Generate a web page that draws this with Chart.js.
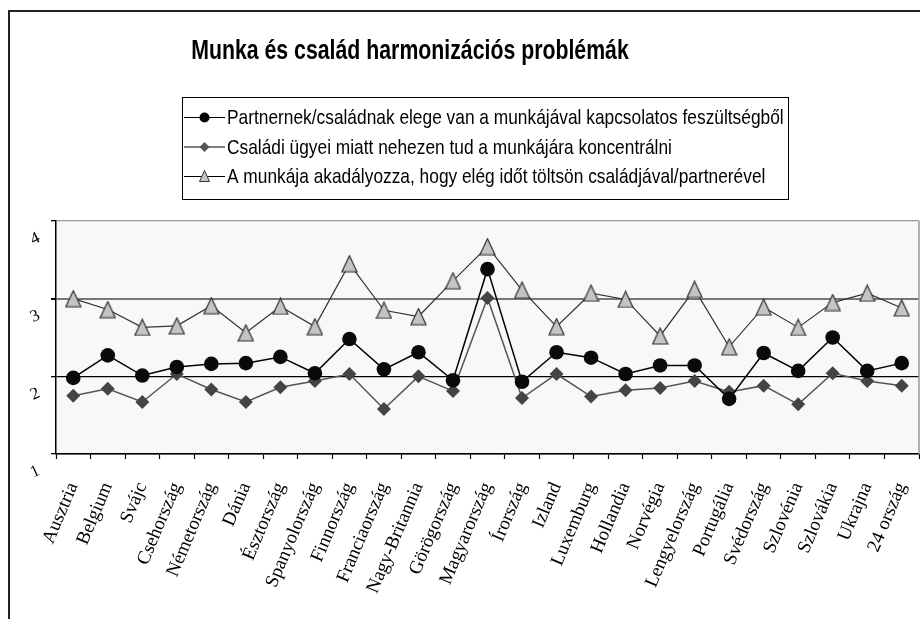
<!DOCTYPE html>
<html>
<head>
<meta charset="utf-8">
<script src="https://cdn.jsdelivr.net/npm/chart.js@4/dist/chart.umd.min.js"></script>
<style>
  html, body { margin: 0; padding: 0; background: #fff; }
  #wrap { width: 920px; height: 619px; }
</style>
</head>
<body>
<div id="wrap"><canvas id="c" width="920" height="619"></canvas></div>
<script>
const chartTitle = 'Munka és család harmonizációs problémák';
const categories = ['Ausztria','Belgium','Svájc','Csehország','Németország','Dánia','Észtország','Spanyolország','Finnország','Franciaország','Nagy-Britannia','Görögország','Magyarország','Írország','Izland','Luxemburg','Hollandia','Norvégia','Lengyelország','Portugália','Svédország','Szlovénia','Szlovákia','Ukrajna','24 ország'];
const seriesNames = [
  'Partnernek/családnak elege van a munkájával kapcsolatos feszültségből',
  'Családi ügyei miatt nehezen tud a munkájára koncentrálni',
  'A munkája akadályozza, hogy elég időt töltsön családjával/partnerével'
];
const partnerFed = [1.98,2.27,2.01,2.12,2.16,2.17,2.25,2.04,2.48,2.09,2.31,1.95,3.38,1.93,2.31,2.24,2.03,2.14,2.14,1.71,2.30,2.07,2.50,2.07,2.17];
const csaladiUgyek = [1.75,1.84,1.67,2.03,1.83,1.67,1.86,1.94,2.03,1.58,2.00,1.81,3.01,1.72,2.03,1.74,1.82,1.85,1.94,1.80,1.88,1.64,2.04,1.94,1.88];
const munkaAkadalyoz = [3.00,2.86,2.63,2.65,2.91,2.56,2.90,2.64,3.45,2.85,2.77,3.23,3.67,3.11,2.64,3.07,2.99,2.52,3.12,2.38,2.89,2.63,2.95,3.07,2.88];
const yTicks = [1,2,3,4];

function makeTriangle(w, h, fill, stroke) {
  const cv = document.createElement('canvas');
  cv.width = w + 2; cv.height = h + 2;
  const g = cv.getContext('2d');
  g.beginPath();
  g.moveTo(1 + w / 2, 1);
  g.lineTo(1 + w, 1 + h);
  g.lineTo(1, 1 + h);
  g.closePath();
  g.fillStyle = fill; g.fill();
  g.strokeStyle = stroke; g.lineWidth = 1.2; g.stroke();
  return cv;
}
const triBig = makeTriangle(15, 16, '#c4c4c4', '#333');

const bgPlugin = {
  id: 'bg',
  beforeDraw(chart) {
    const { ctx, chartArea: a } = chart;
    ctx.save();
    ctx.fillStyle = '#f8f8f8';
    ctx.fillRect(a.left, a.top, a.right - a.left, a.bottom - a.top);
    ctx.restore();
  },
  afterDraw(chart) {
    const { ctx, chartArea: a } = chart;
    ctx.save();
    ctx.strokeStyle = '#999';
    ctx.lineWidth = 1.5;
    ctx.beginPath(); ctx.moveTo(a.right, a.top); ctx.lineTo(a.right, a.bottom); ctx.stroke();
    ctx.strokeStyle = '#222';
    ctx.lineWidth = 2;
    ctx.beginPath(); ctx.moveTo(9, 619); ctx.lineTo(9, 11); ctx.lineTo(920, 11); ctx.stroke();
    // title
    ctx.fillStyle = '#000';
    ctx.font = 'bold 28px "Liberation Sans", Arial, sans-serif';
    ctx.textBaseline = 'middle';
    ctx.textAlign = 'center';
    ctx.save();
    ctx.translate(410, 51);
    ctx.scale(0.76, 1);
    ctx.fillText(chartTitle, 0, 0);
    ctx.restore();
    // legend
    ctx.strokeStyle = '#000';
    ctx.lineWidth = 1;
    ctx.strokeRect(182.5, 97.5, 606, 102);
    const rows = [117.5, 147, 176.5];
    ctx.font = '21px "Liberation Sans", Arial, sans-serif';
    ctx.textAlign = 'left';
    rows.forEach((y, i) => {
      ctx.strokeStyle = '#000';
      ctx.lineWidth = 1.2;
      ctx.beginPath(); ctx.moveTo(184, y); ctx.lineTo(225, y); ctx.stroke();
      const mx = 204.5;
      if (i === 0) {
        ctx.fillStyle = '#000';
        ctx.beginPath(); ctx.arc(mx, y, 5, 0, Math.PI * 2); ctx.fill();
      } else if (i === 1) {
        ctx.fillStyle = '#555';
        ctx.beginPath(); ctx.moveTo(mx, y - 5); ctx.lineTo(mx + 5, y); ctx.lineTo(mx, y + 5); ctx.lineTo(mx - 5, y); ctx.closePath(); ctx.fill();
      } else {
        ctx.fillStyle = '#c4c4c4'; ctx.strokeStyle = '#333'; ctx.lineWidth = 1;
        ctx.beginPath(); ctx.moveTo(mx, y - 6); ctx.lineTo(mx + 5, y + 5); ctx.lineTo(mx - 5, y + 5); ctx.closePath(); ctx.fill(); ctx.stroke();
      }
      ctx.fillStyle = '#000';
      ctx.save();
      ctx.translate(227, y + 1);
      ctx.scale(0.825, 1);
      ctx.fillText(seriesNames[i], 0, 0);
      ctx.restore();
    });
    ctx.restore();
  }
};

new Chart(document.getElementById('c'), {
  type: 'line',
  data: {
    labels: categories,
    datasets: [
      {
        label: seriesNames[0], data: partnerFed,
        borderColor: '#000', borderWidth: 1.5, backgroundColor: '#000',
        pointStyle: 'circle', pointRadius: 7.3, pointBorderWidth: 0, pointBackgroundColor: '#0a0a0a',
        tension: 0
      },
      {
        label: seriesNames[1], data: csaladiUgyek,
        borderColor: '#555', borderWidth: 1.5, backgroundColor: '#444',
        pointStyle: 'rectRot', pointRadius: 7, pointBorderWidth: 0, pointBackgroundColor: '#444',
        tension: 0
      },
      {
        label: seriesNames[2], data: munkaAkadalyoz,
        borderColor: '#333', borderWidth: 1.2, backgroundColor: '#c4c4c4',
        pointStyle: triBig, pointRadius: 8,
        tension: 0
      }
    ]
  },
  options: {
    responsive: false,
    animation: false,
    devicePixelRatio: 1,
    layout: { autoPadding: false, padding: { top: 221, left: 0, right: 1, bottom: 0 } },
    plugins: {
      legend: { display: false },
      title: { display: false },
      tooltip: { enabled: false }
    },
    scales: {
      x: {
        type: 'category',
        offset: true,
        afterFit(s) { s.height = 165; s.paddingLeft = 0; s.paddingRight = 0; },
        border: { display: true, color: '#000', width: 1.5 },
        grid: { display: true, offset: true, drawOnChartArea: false, drawTicks: true, tickLength: 5, tickColor: '#000', tickWidth: 1.2 },
        ticks: {
          autoSkip: false, minRotation: 67, maxRotation: 67, padding: 20,
          color: '#000',
          font: { family: '"Liberation Serif", "Times New Roman", serif', size: 19 }
        }
      },
      y: {
        min: 1, max: 4,
        afterFit(s) { s.width = 56; s.paddingTop = 0; s.paddingBottom = 0; },
        afterBuildTicks(s) { s.ticks = yTicks.map(v => ({ value: v })); },
        border: { display: true, color: '#000', width: 1.5 },
        grid: {
          drawTicks: true, tickLength: 5, tickColor: '#000',
          color: c => c.tick && c.tick.value === 3 ? '#777' : (c.tick && c.tick.value === 4 ? '#999' : '#000'),
          lineWidth: c => c.tick && c.tick.value === 3 ? 2 : 1.3
        },
        ticks: {
          stepSize: 1, padding: 12, labelOffset: 16, minRotation: 25, maxRotation: 25,
          color: '#000',
          font: { family: '"Liberation Serif", "Times New Roman", serif', size: 17 }
        }
      }
    }
  },
  plugins: [bgPlugin]
});
</script>
</body>
</html>
